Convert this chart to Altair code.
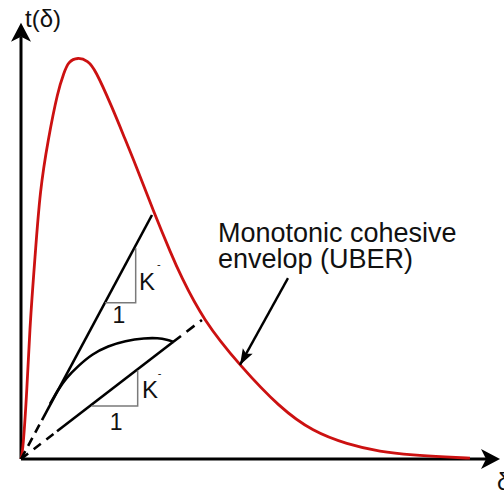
import altair as alt
import pandas as pd

# Monotonic cohesive envelope (UBER): delta normalised by delta_c, traction by its peak
env_d = [0.0, 0.035, 0.105, 0.158, 0.246, 0.333, 0.474, 0.649, 0.754, 0.825, 1.0,
         1.175, 1.298, 1.596, 1.825, 2.0, 2.316, 2.649, 2.789, 3.193, 3.842,
         4.544, 5.123, 5.719, 6.298, 6.877, 7.474, 7.877]
env_t = [0.0, 0.022, 0.172, 0.338, 0.502, 0.669, 0.794, 0.918, 0.960, 0.988, 1.0,
         0.990, 0.970, 0.876, 0.796, 0.736, 0.619, 0.505, 0.460, 0.346, 0.232,
         0.127, 0.068, 0.037, 0.018, 0.010, 0.005, 0.002]

# Unloading/reloading line to the envelope (upper, stiffness K-)
up_dash_d, up_dash_t = [0.0, 0.368], [0.0, 0.097]
up_solid_d, up_solid_t = [0.368, 2.298], [0.097, 0.607]

# Lower unloading line
lo_dash1_d, lo_dash1_t = [0.0, 0.632], [0.0, 0.069]
lo_solid_d, lo_solid_t = [0.632, 2.667], [0.069, 0.291]
lo_dash2_d, lo_dash2_t = [2.667, 3.175], [0.291, 0.346]

# Reloading loop between the two lines
loop_d = [0.509, 0.649, 0.789, 1.0, 1.246, 1.526, 1.825, 2.175, 2.404, 2.561, 2.684]
loop_t = [0.137, 0.172, 0.201, 0.231, 0.261, 0.281, 0.294, 0.301, 0.301, 0.297, 0.291]

# Slope triangles
tri_up_d, tri_up_t = [1.473, 2.012, 2.012], [0.389, 0.389, 0.525]
tri_lo_d, tri_lo_t = [1.240, 2.047, 2.047], [0.132, 0.132, 0.220]

# Annotation arrow (tail, tip)
ann_d, ann_t = [4.684, 3.842], [0.450, 0.234]

# Axis lines and arrow tips
yaxis_d, yaxis_t = [0.0, 0.0], [0.0, 1.05]
xaxis_d, xaxis_t = [0.0, 8.2], [0.0, 0.0]
ytip_d, ytip_t = [0.0], [1.085]
xtip_d, xtip_t = [8.404], [0.0]

# Text labels
lbl_text = ["Monotonic cohesive", "envelop (UBER)", "K", "K", "t(\u03b4)", "\u03b4"]
lbl_d = [3.456, 3.456, 2.070, 2.123, 0.070, 8.351]
lbl_t = [0.540, 0.475, 0.420, 0.152, 1.075, -0.077]
one_d, one_t = [1.719, 1.667], [0.338, 0.072]
sup_d, sup_t = [2.420, 2.430], [0.474, 0.203]

W, H = 504, 497
xs = alt.Scale(domain=[-0.3684, 8.4737], nice=False, zero=False)
ys = alt.Scale(domain=[-0.0945, 1.1418], nice=False, zero=False)
FONT = "Liberation Sans"


def enc():
    return dict(x=alt.X("d:Q", scale=xs, axis=None),
                y=alt.Y("t:Q", scale=ys, axis=None))


def frame(d, t, **extra):
    df = pd.DataFrame({"d": d, "t": t, "i": list(range(len(d)))})
    for k, v in extra.items():
        df[k] = v
    return df


def line(d, t, color="black", width=2.6, dash=None, interp="linear"):
    kw = dict(color=color, strokeWidth=width, strokeCap="butt", clip=False,
              interpolate=interp)
    if dash:
        kw["strokeDash"] = dash
    return alt.Chart(frame(d, t)).mark_line(**kw).encode(order="i:Q", **enc())


def head(d, t, path, size, angle=0):
    return alt.Chart(frame(d, t)).mark_point(
        shape=path, filled=True, size=size, angle=angle, color="black",
        opacity=1, strokeWidth=0, clip=False).encode(**enc())


def text(d, t, s, size, align="left", color="#111"):
    return alt.Chart(frame(d, t, s=s)).mark_text(
        font=FONT, fontSize=size, align=align, baseline="alphabetic",
        color=color, clip=False).encode(text="s:N", **enc())


layers = [
    line(yaxis_d, yaxis_t, width=3),
    line(xaxis_d, xaxis_t, width=3),
    head(ytip_d, ytip_t, "M0,0L1,1.9L0,1.4L-1,1.9Z", 400),
    head(xtip_d, xtip_t, "M0,0L-1.9,1L-1.4,0L-1.9,-1Z", 400),
    line(env_d, env_t, color="#cc1111", width=2.8, interp="basis"),
    line(up_dash_d, up_dash_t, dash=[9, 6]),
    line(up_solid_d, up_solid_t),
    line(lo_dash1_d, lo_dash1_t, dash=[9, 7]),
    line(lo_solid_d, lo_solid_t),
    line(lo_dash2_d, lo_dash2_t, dash=[10, 7]),
    line(loop_d, loop_t, interp="basis"),
    line(tri_up_d, tri_up_t, color="#7a7a7a", width=1.5),
    line(tri_lo_d, tri_lo_t, color="#7a7a7a", width=1.5),
    line(ann_d, ann_t, width=2.4),
    head(ann_d[1:], ann_t[1:], "M0,0L0.7,2L0,1.6L-0.7,2Z", 256, angle=208.9),
]

sizes = [27, 27, 24, 24, 24, 24]
for i in range(len(lbl_text)):
    layers.append(text([lbl_d[i]], [lbl_t[i]], [lbl_text[i]], sizes[i]))
layers.append(text(one_d, one_t, ["1", "1"], 23, align="center"))
layers.append(text(sup_d, sup_t, ["-", "-"], 11, align="center"))

chart = alt.layer(*layers).properties(
    width=W, height=H, padding=0,
    autosize=alt.AutoSizeParams(type="none"),
    background="white",
).configure_view(stroke=None)

chart.save("out.html", embed_options={"renderer": "svg", "actions": False})
